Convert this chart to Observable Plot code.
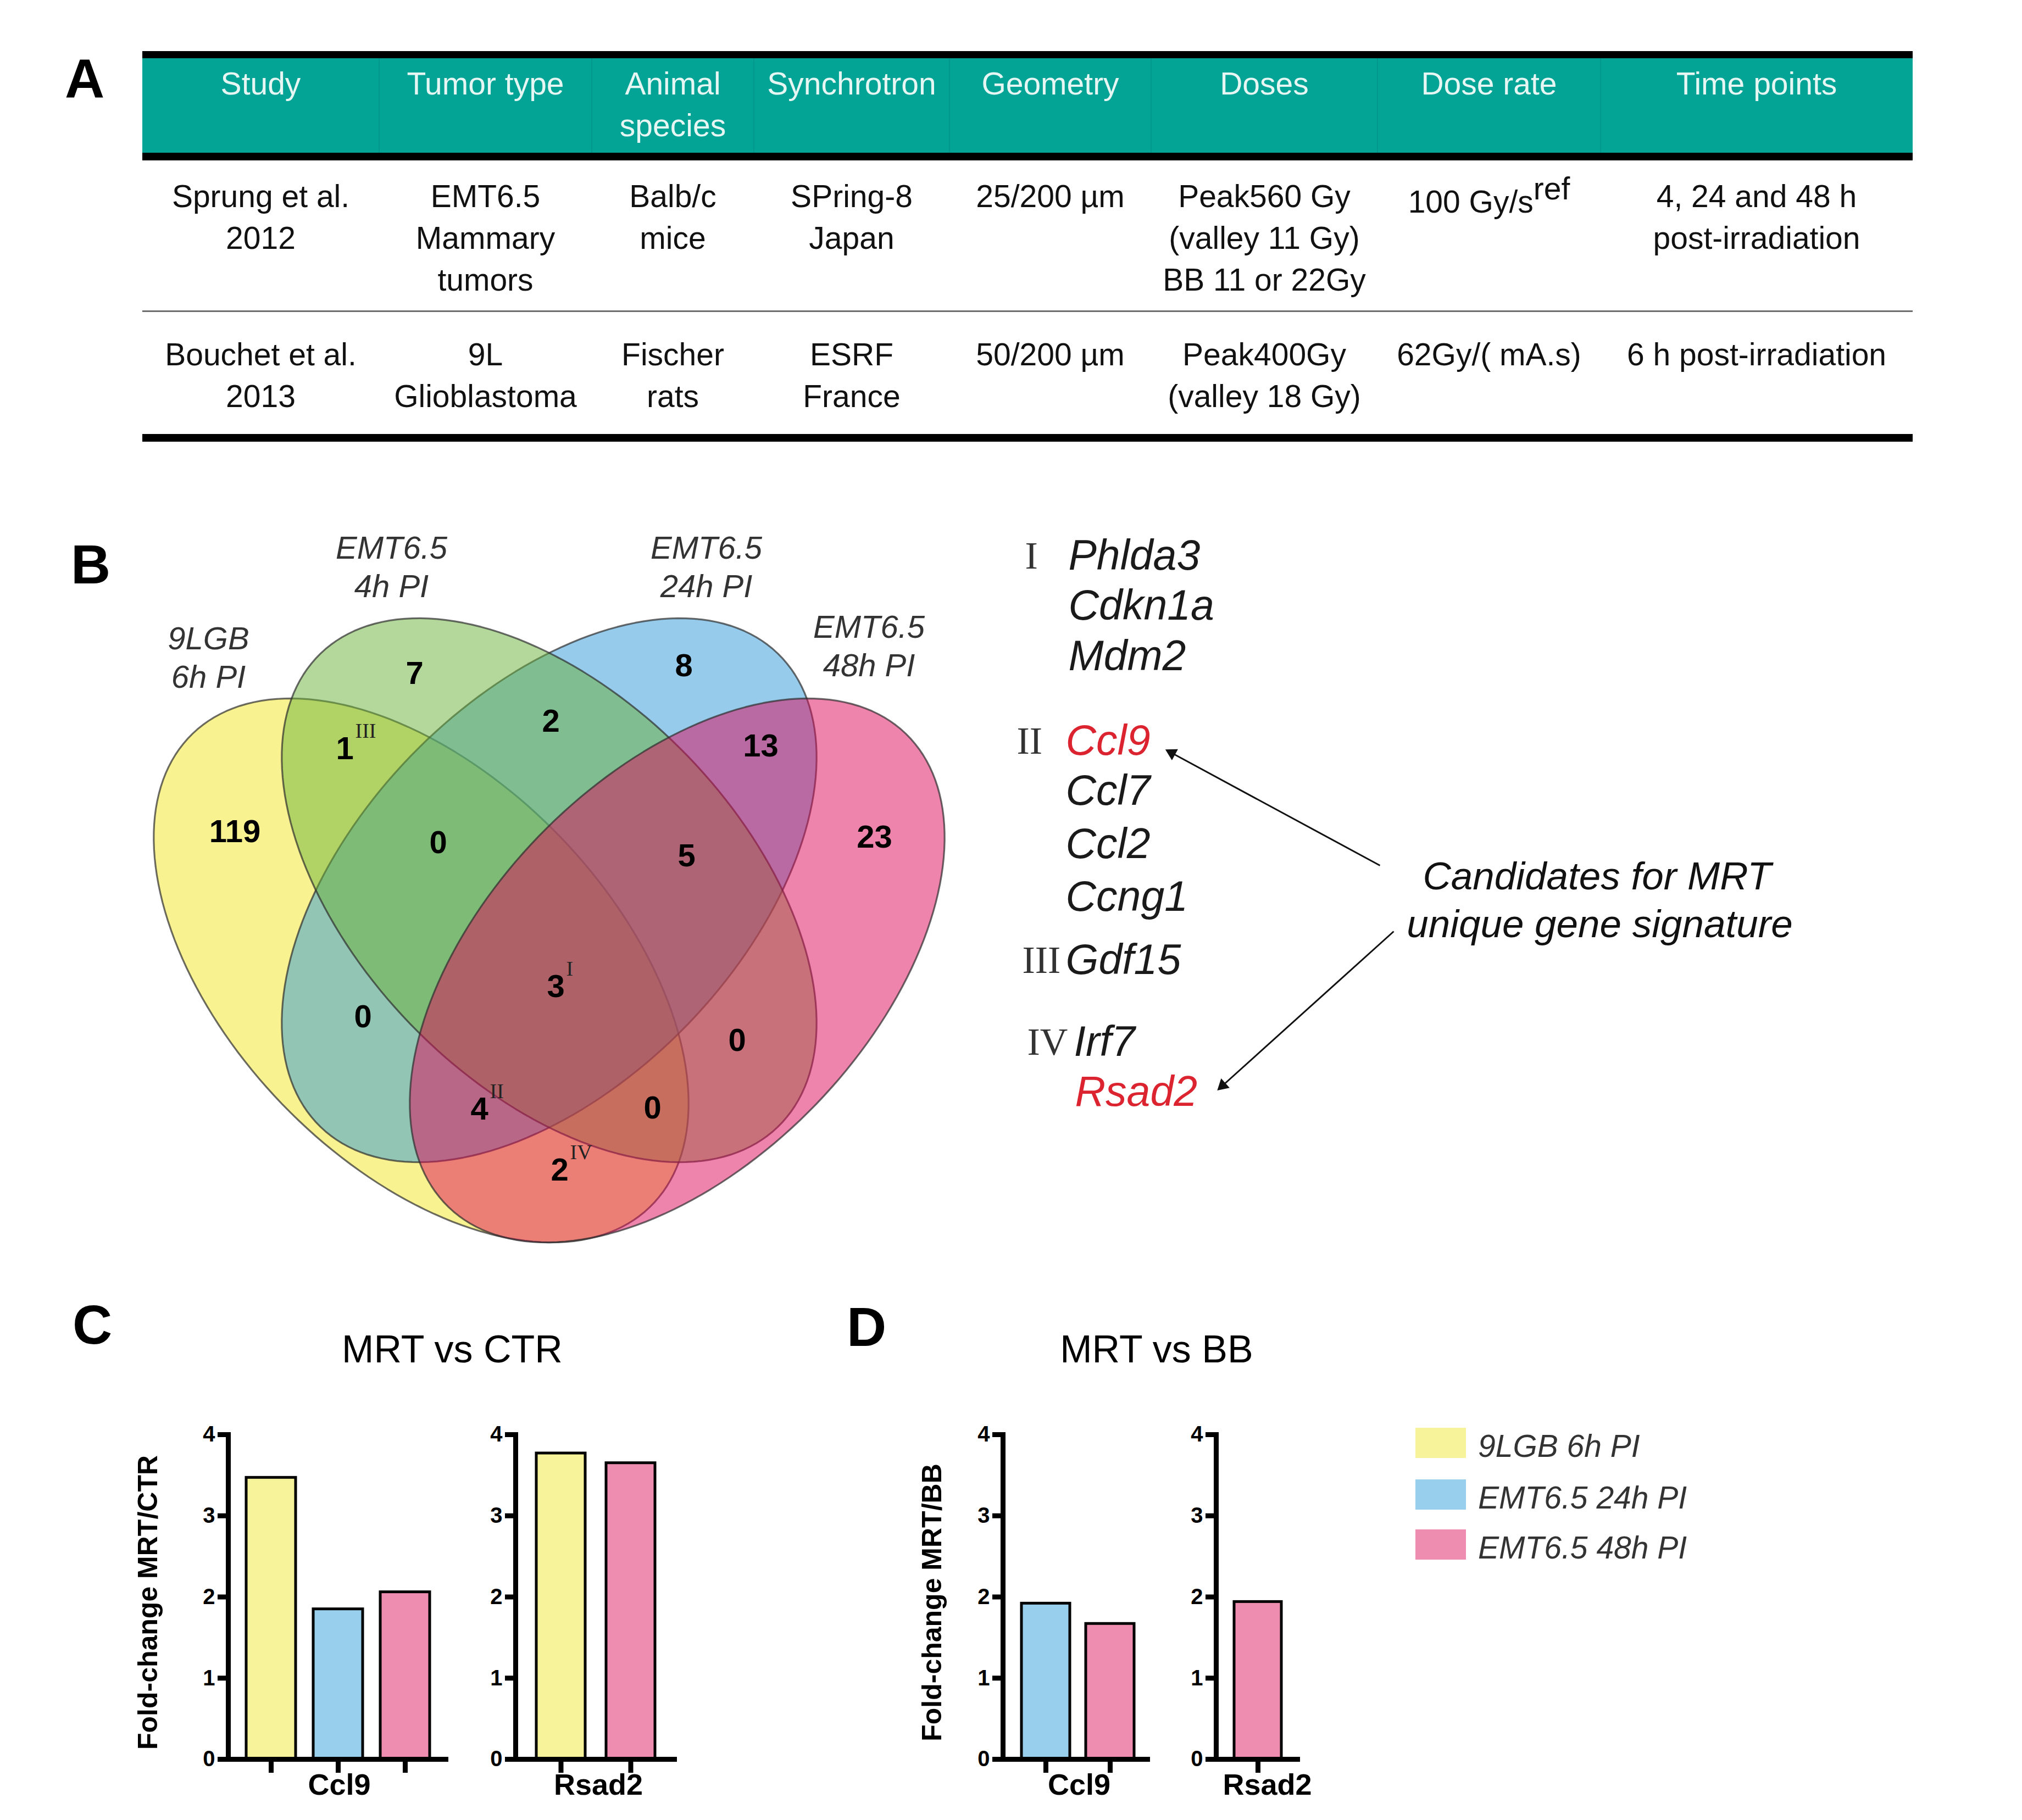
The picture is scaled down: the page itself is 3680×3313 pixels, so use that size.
<!DOCTYPE html>
<html><head><meta charset="utf-8">
<script src="https://cdn.jsdelivr.net/npm/d3@7"></script>
<script src="https://cdn.jsdelivr.net/npm/@observablehq/plot@0.6"></script>
<style>
html,body{margin:0;padding:0;background:#fff;}
#page{position:relative;width:3680px;height:3313px;overflow:hidden;font-family:"Liberation Sans",Arial,Helvetica,sans-serif;color:#000;background:#fff;}
.abs{position:absolute;}
.ctr{transform:translate(-50%,-50%);white-space:nowrap;line-height:1;}
.letter{font-size:100px;font-weight:bold;}
svg{max-width:none !important;}
.cell{text-align:center;font-size:57px;line-height:76px;white-space:pre;color:#111;}
.cell sup{font-size:1em;vertical-align:0.42em;line-height:0;}
</style></head><body><div id="page"></div>
<script>
// ================= DATA =================
// Panel A table
const tableHeaders = ["Study", "Tumor type", "Animal\nspecies", "Synchrotron", "Geometry", "Doses", "Dose rate", "Time points"];
const tableRow1 = ["Sprung et al.\n2012", "EMT6.5\nMammary\ntumors", "Balb/c\nmice", "SPring-8\nJapan", "25/200 µm", "Peak560 Gy\n(valley 11 Gy)\nBB 11 or 22Gy", "100 Gy/s^ref", "4, 24 and 48 h\npost-irradiation"];
const tableRow2 = ["Bouchet et al.\n2013", "9L\nGlioblastoma", "Fischer\nrats", "ESRF\nFrance", "50/200 µm", "Peak400Gy\n(valley 18 Gy)", "62Gy/( mA.s)", "6 h post-irradiation"];

// Panel B Venn
const vennSetNames = ["9LGB\n6h PI", "EMT6.5\n4h PI", "EMT6.5\n24h PI", "EMT6.5\n48h PI"];
const vennRegions = ["Y", "G", "B", "P", "YG", "GB", "BP", "YGB", "GBP", "YGBP", "YB", "GP", "YBP", "YGP", "YP"];
const vennCounts  = [119, 7, 8, 23, 1, 2, 13, 0, 5, 3, 0, 0, 4, 0, 2];
const vennMarks   = ["", "", "", "", "III", "", "", "", "", "I", "", "", "II", "", "IV"];
const geneGroups = ["I", "II", "III", "IV"];
const genesI = ["Phlda3", "Cdkn1a", "Mdm2"];
const genesII = ["Ccl9", "Ccl7", "Ccl2", "Ccng1"];
const genesIII = ["Gdf15"];
const genesIV = ["Irf7", "Rsad2"];
const candidateGenes = ["Ccl9", "Rsad2"];
const candidateNote = ["Candidates for MRT", "unique gene signature"];

// Panels C / D bar charts
const seriesNames = ["9LGB 6h PI", "EMT6.5 24h PI", "EMT6.5 48h PI"];
const seriesColors = ["#f7f39b", "#97cfec", "#ef8db1"];
const mrtVsCtrCcl9  = [3.47, 1.85, 2.06];
const mrtVsCtrRsad2 = [3.77, null, 3.65];
const mrtVsBbCcl9   = [null, 1.92, 1.67];
const mrtVsBbRsad2  = [null, null, 1.94];
const yTicks = [0, 1, 2, 3, 4];

// ================= LAYOUT =================
const page = document.getElementById("page");
function div(text, style, cls) {
  const d = document.createElement("div");
  d.className = "abs " + (cls || "");
  Object.assign(d.style, style);
  if (text != null) d.textContent = text;
  page.appendChild(d);
  return d;
}
const FONT = "Liberation Sans, Arial, Helvetica, sans-serif";
const SERIF = "Liberation Serif, Times New Roman, serif";

// panel letters
div("A", {left: "154px", top: "143px"}, "ctr letter");
div("B", {left: "165px", top: "1027px"}, "ctr letter");
div("C", {left: "168px", top: "2411px"}, "ctr letter");
div("D", {left: "1577px", top: "2415px"}, "ctr letter");

// ---- Panel A table ----
const colEdges = [259, 690, 1077, 1372, 1728, 2095, 2507, 2913, 3481];
const tL = colEdges[0], tW = colEdges[colEdges.length - 1] - colEdges[0];
div(null, {left: tL + "px", top: "93px", width: tW + "px", height: "13px", background: "#000"});
div(null, {left: tL + "px", top: "106px", width: tW + "px", height: "172px", background: "#03a396"});
div(null, {left: tL + "px", top: "278px", width: tW + "px", height: "14px", background: "#000"});
div(null, {left: tL + "px", top: "565px", width: tW + "px", height: "3px", background: "#6e6e6e"});
div(null, {left: tL + "px", top: "790px", width: tW + "px", height: "14px", background: "#000"});
for (let i = 1; i < colEdges.length - 1; i++) {
  div(null, {left: (colEdges[i] - 1) + "px", top: "106px", width: "2px", height: "172px", background: "rgba(0,60,50,0.10)"});
}
function tableRow(cells, top, color) {
  cells.forEach((t, i) => {
    const d = div(null, {left: colEdges[i] + "px", width: (colEdges[i + 1] - colEdges[i]) + "px", top: top + "px", color}, "cell");
    if (t.includes("^")) {
      const [main, sup] = t.split("^");
      d.appendChild(document.createTextNode(main));
      const s = document.createElement("sup"); s.textContent = sup; d.appendChild(s);
      d.style.top = (top + 10) + "px";
    } else d.textContent = t;
  });
}
tableRow(tableHeaders, 114, "#e6f7f3");
tableRow(tableRow1, 319, "#111");
tableRow(tableRow2, 607, "#111");

// ---- Panel B: Venn + gene list (one Plot, local coordinates) ----
const B_LEFT = 200, B_TOP = 950, B_W = 3300, B_H = 1400;
const EA = 599, EB = 351;
const ellipses = [
  {cx: 566, cy: 816, rot: 46, fill: "#f1e523"},   // 9LGB 6h
  {cx: 799, cy: 670, rot: 134, fill: "#2d97d7"},  // EMT6.5 24h
  {cx: 799, cy: 670, rot: 46, fill: "#69b137"},   // EMT6.5 4h
  {cx: 1032, cy: 816, rot: 134, fill: "#dd0a5a"}  // EMT6.5 48h
];
function ellipsePath(e) {
  const c = Math.cos(e.rot * Math.PI / 180), s = Math.sin(e.rot * Math.PI / 180);
  return d3.range(0, 361, 2).map(deg => {
    const t = deg * Math.PI / 180;
    return {x: e.cx + EA * Math.cos(t) * c - EB * Math.sin(t) * s,
            y: e.cy + EA * Math.cos(t) * s + EB * Math.sin(t) * c};
  });
}
const setLabelPos = [[179, 244], [512, 79], [1085, 79], [1381, 223]];
const regionPos = {
  Y: [227, 564], G: [554, 276], B: [1044, 262], P: [1391, 574],
  YG: [427, 413], GB: [802, 363], BP: [1184, 408], YGB: [597, 584],
  GBP: [1049, 608], YGBP: [811, 846], YB: [460, 901], GP: [1141, 944],
  YBP: [672, 1069], YGP: [987, 1067], YP: [818, 1180]
};
const setLabels = vennSetNames.map((t, i) => ({text: t, x: setLabelPos[i][0], y: setLabelPos[i][1]}));
const regionRows = vennRegions.map((r, i) => ({count: String(vennCounts[i]), mark: vennMarks[i], x: regionPos[r][0], y: regionPos[r][1]}));

const geneLineY = [62, 153, 245, 399, 490, 587, 683, 798, 947, 1038];
const geneLineX = [1744, 1744, 1744, 1739, 1739, 1739, 1739, 1739, 1754, 1756];
const romanX = [1665, 1650, 1660, 1669];
const geneRows = [], romanRows = [];
[genesI, genesII, genesIII, genesIV].forEach((g, gi) => g.forEach((name, j) => {
  const k = geneRows.length;
  geneRows.push({name, x: geneLineX[k], y: geneLineY[k], hot: candidateGenes.includes(name)});
  if (j === 0) romanRows.push({text: geneGroups[gi], x: romanX[gi], y: geneLineY[k]});
}));
const noteRows = candidateNote.map((t, i) => ({text: t, x: [2706, 2711][i], y: [646, 733][i]}));
const arrowRows = [
  {x1: 2311, y1: 625, x2: 1917, y2: 412},
  {x1: 2336, y1: 745, x2: 2012, y2: 1037}
];
// filled arrowheads: triangle symbol centred behind the tip, rotated along the shaft
const HEAD_R = 11;
const headRows = arrowRows.map(a => {
  const dx = a.x2 - a.x1, dy = a.y2 - a.y1, L = Math.hypot(dx, dy);
  const ux = dx / L, uy = dy / L, back = 1.555 * HEAD_R;
  return {x: a.x2 - ux * back, y: a.y2 - uy * back, angle: Math.atan2(dy, dx) * 180 / Math.PI + 90,
          lx: a.x2 - ux * back * 1.2, ly: a.y2 - uy * back * 1.2, x1: a.x1, y1: a.y1};
});

const vennPlot = Plot.plot({
  width: B_W, height: B_H, margin: 0,
  x: {domain: [0, B_W], range: [0, B_W], axis: null},
  y: {domain: [0, B_H], range: [0, B_H], axis: null},
  style: {fontFamily: FONT, background: "transparent", overflow: "visible", maxWidth: "none"},
  marks: [
    ...ellipses.map(e => Plot.line(ellipsePath(e), {x: "x", y: "y", fill: e.fill, fillOpacity: 0.5, stroke: "#2e2e2e", strokeOpacity: 0.7, strokeWidth: 3.2})),
    Plot.text(setLabels, {x: "x", y: "y", text: "text", fontSize: 58, fontStyle: "italic", lineHeight: 1.2, fill: "#333"}),
    Plot.text(regionRows, {x: "x", y: "y", text: "count", fontSize: 58, fontWeight: "bold", fill: "#000"}),
    Plot.text(regionRows.filter(d => d.mark), {x: "x", y: "y", text: "mark", fontSize: 38, fontFamily: SERIF, textAnchor: "start", dx: 19, dy: -33, fill: "#222"}),
    Plot.text(romanRows, {x: "x", y: "y", text: "text", fontSize: 70, fontFamily: SERIF, textAnchor: "start", fill: "#333"}),
    Plot.text(geneRows.filter(d => !d.hot), {x: "x", y: "y", text: "name", fontSize: 77, fontStyle: "italic", textAnchor: "start", fill: "#1a1a1a"}),
    Plot.text(geneRows.filter(d => d.hot), {x: "x", y: "y", text: "name", fontSize: 77, fontStyle: "italic", textAnchor: "start", fill: "#dc2430"}),
    Plot.text(noteRows, {x: "x", y: "y", text: "text", fontSize: 71, fontStyle: "italic", fill: "#111"}),
    Plot.link(headRows, {x1: "x1", y1: "y1", x2: "lx", y2: "ly", stroke: "#111", strokeWidth: 3}),
    Plot.dot(headRows, {x: "x", y: "y", r: HEAD_R, symbol: "triangle2", rotate: "angle", fill: "#111", stroke: "none"})
  ]
});
const vb = div(null, {left: B_LEFT + "px", top: B_TOP + "px"});
vb.appendChild(vennPlot);

// ---- Panels C / D ----
div("MRT vs CTR", {left: "823px", top: "2456px", fontSize: "70px"}, "ctr");
div("MRT vs BB", {left: "2105px", top: "2456px", fontSize: "70px"}, "ctr");

const Y4 = 2611, Y0 = 3202;
function barPanel(o) {
  const ML = 120, MR = 12, MT = 40, MB = 110;
  const rows = seriesNames.map((s, i) => ({series: s, value: o.values[i]})).filter(d => d.value != null);
  const plot = Plot.plot({
    width: ML + (o.axisRight - o.axisX) + MR,
    height: MT + (Y0 - Y4) + MB,
    marginLeft: ML, marginRight: MR, marginTop: MT, marginBottom: MB,
    x: {type: "band", domain: rows.map(d => d.series), paddingInner: o.pi, paddingOuter: o.po, insetLeft: o.insetLeft, insetRight: o.insetRight},
    y: {domain: [0, 4]},
    color: {domain: seriesNames, range: seriesColors},
    style: {fontFamily: FONT, color: "#000", background: "transparent", overflow: "visible", maxWidth: "none"},
    marks: [
      Plot.barY(rows, {x: "series", y: "value", fill: "series", stroke: "#000", strokeWidth: 5}),
      Plot.axisY({ticks: yTicks, tickFormat: d => String(d), tickSize: 19, tickPadding: 5, strokeWidth: 9, fontSize: 40, fontWeight: "bold", label: null}),
      Plot.axisX({tickSize: 25, strokeWidth: 9, tickFormat: () => "", label: null}),
      Plot.frame({anchor: "left", strokeWidth: 9}),
      Plot.frame({anchor: "bottom", strokeWidth: 9}),
      Plot.text([o.gene], {frameAnchor: "bottom", textAnchor: "middle", dy: 64, dx: o.labelDx || 0, fontSize: 54, fontWeight: "bold"}),
      ...(o.yLabel ? [Plot.text([o.yLabel], {frameAnchor: "left", textAnchor: "middle", dx: o.yLabelDx, dy: 10, rotate: -90, fontSize: 50, fontWeight: "bold"})] : [])
    ]
  });
  const d = div(null, {left: (o.axisX - ML) + "px", top: (Y4 - MT) + "px"});
  d.appendChild(plot);
}
barPanel({values: mrtVsCtrCcl9, gene: "Ccl9", axisX: 415, axisRight: 811, pi: 0.265, po: 0.2, insetLeft: 7, insetRight: 4, yLabel: "Fold-change MRT/CTR", yLabelDx: -146, labelDx: 4});
barPanel({values: mrtVsCtrRsad2, gene: "Rsad2", axisX: 938, axisRight: 1227, pi: 0.30, po: 0.21, insetLeft: 10, insetRight: 8, labelDx: 6});
barPanel({values: mrtVsBbCcl9, gene: "Ccl9", axisX: 1825, axisRight: 2088, pi: 0.25, po: 0.2, insetLeft: 10, insetRight: 1, yLabel: "Fold-change MRT/BB", yLabelDx: -129, labelDx: 7});
barPanel({values: mrtVsBbRsad2, gene: "Rsad2", axisX: 2213, axisRight: 2361, pi: 0.25, po: 0.2, insetLeft: 10, insetRight: 5, labelDx: 19});

// ---- Legend ----
const legTops = [2599, 2693, 2784];
seriesNames.forEach((s, i) => {
  div(null, {left: "2576px", top: legTops[i] + "px", width: "92px", height: "55px", background: seriesColors[i]});
  div(s, {left: "2690px", top: (legTops[i] + 33) + "px", fontSize: "57px", fontStyle: "italic", color: "#333", transform: "translateY(-50%)", lineHeight: "1", whiteSpace: "nowrap"});
});
</script></body></html>
